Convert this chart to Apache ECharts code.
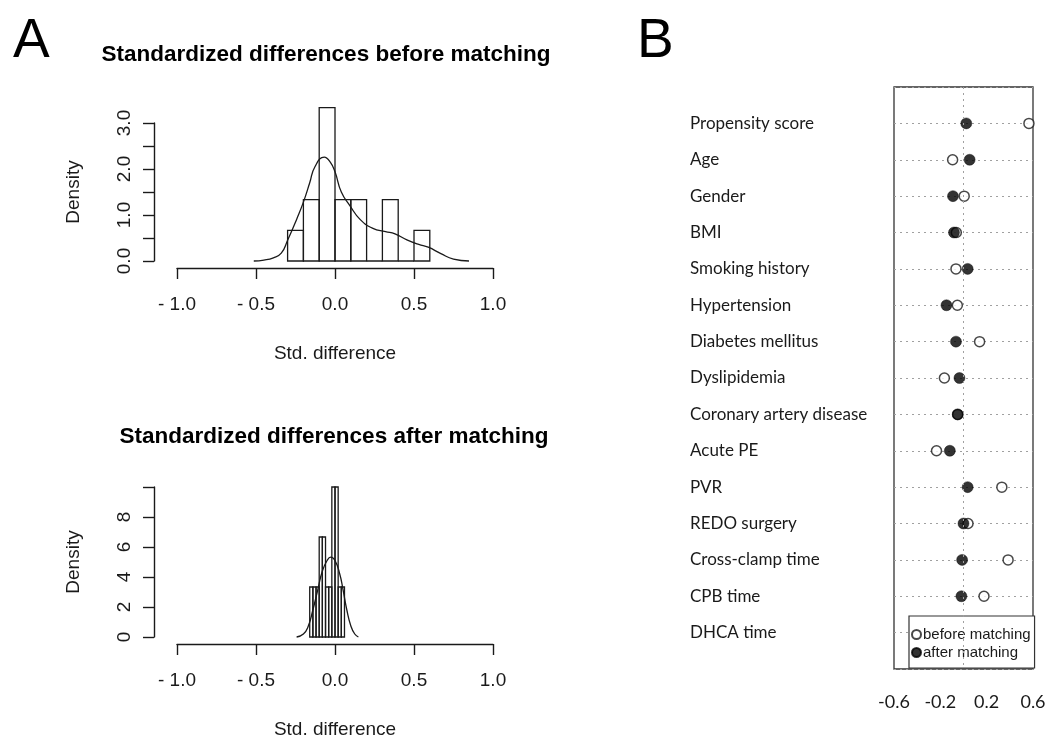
<!DOCTYPE html>
<html>
<head>
<meta charset="utf-8">
<script src="https://cdn.jsdelivr.net/npm/echarts@6/dist/echarts.min.js"></script>
<style>
  html, body { margin: 0; padding: 0; background: #fff; }
  #chart { width: 1058px; height: 740px; }
</style>
</head>
<body>
<div id="chart"></div>
<script>
// panel A: histograms of standardized differences
const histTicks = ['- 1.0', '- 0.5', '0.0', '0.5', '1.0'];
const beforeBreaks = [-0.3, -0.2, -0.1, 0.0, 0.1, 0.2, 0.3, 0.4, 0.5, 0.6];
const beforeDensity = [0.667, 1.333, 3.333, 1.333, 1.333, 0, 1.333, 0, 0.667];
const beforeCurve = [
  [-0.514, 0], [-0.45, 0.02], [-0.39, 0.07], [-0.34, 0.17], [-0.30, 0.45],
  [-0.24, 0.93], [-0.20, 1.28], [-0.16, 1.7], [-0.127, 2.05], [-0.068, 2.26],
  [-0.03, 2.15], [0.0, 1.94], [0.04, 1.5], [0.095, 1.2], [0.16, 0.9],
  [0.24, 0.71], [0.32, 0.64], [0.38, 0.59], [0.455, 0.46], [0.53, 0.36],
  [0.59, 0.3], [0.67, 0.16], [0.75, 0.04], [0.848, 0]
];
const afterBreaks = [-0.16, -0.14, -0.12, -0.10, -0.08, -0.06, -0.04, -0.02, 0.0, 0.02, 0.04, 0.06];
const afterDensity = [3.333, 3.333, 3.333, 6.667, 6.667, 3.333, 3.333, 10, 10, 3.333, 3.333];
const afterCurve = [
  [-0.243, 0], [-0.20, 0.2], [-0.17, 0.7], [-0.14, 1.8], [-0.11, 3.1],
  [-0.08, 4.4], [-0.05, 5.1], [-0.027, 5.32], [0.0, 5.1], [0.03, 4.2],
  [0.05, 3.2], [0.075, 1.8], [0.10, 0.75], [0.125, 0.2], [0.148, 0]
];

// panel B: dot chart per covariate
const covariates = [
  'Propensity score', 'Age', 'Gender', 'BMI', 'Smoking history', 'Hypertension',
  'Diabetes mellitus', 'Dyslipidemia', 'Coronary artery disease', 'Acute PE', 'PVR',
  'REDO surgery', 'Cross-clamp time', 'CPB time', 'DHCA time'
];
// DHCA points sit behind the legend, not readable
const smdBefore = [0.565, -0.094, 0.006, -0.062, -0.065, -0.053, 0.139, -0.165, -0.05, -0.233, 0.331, 0.039, 0.385, 0.177, null];
const smdAfter = [0.024, 0.053, -0.091, -0.082, 0.036, -0.147, -0.065, -0.035, -0.05, -0.118, 0.036, 0.0, -0.012, -0.018, null];
const dotTicks = ['-0.6', '-0.2', '0.2', '0.6'];

const ink = '#1a1a1a';
const sans = 'Liberation Sans';

const toBins = (breaks, dens) => dens.map((d, i) => [breaks[i], breaks[i + 1], d]);

function histRect(params, api) {
  const p0 = api.coord([api.value(0), 0]);
  const p1 = api.coord([api.value(1), api.value(2)]);
  return {
    type: 'rect',
    shape: { x: p0[0], y: p1[1], width: p1[0] - p0[0], height: p0[1] - p1[1] },
    style: { fill: 'none', stroke: ink, lineWidth: 1.3 }
  };
}

function histX(gi) {
  return {
    type: 'value', gridIndex: gi, min: -1, max: 1, interval: 0.5, offset: 7,
    axisLine: { onZero: false, lineStyle: { color: ink, width: 1.4 } },
    axisTick: { length: 11, lineStyle: { color: ink, width: 1.4 } },
    splitLine: { show: false },
    axisLabel: {
      margin: 27, color: ink, fontSize: 19, fontFamily: sans,
      formatter: v => histTicks[Math.round((v + 1) / 0.5)]
    },
    name: 'Std. difference', nameLocation: 'middle', nameGap: 76,
    nameTextStyle: { fontSize: 19, fontFamily: sans, color: ink }
  };
}

function histY(gi, max, interval, fmt) {
  return {
    type: 'value', gridIndex: gi, min: 0, max: max, interval: interval, offset: 23,
    axisLine: { show: true, onZero: false, lineStyle: { color: ink, width: 1.4 } },
    axisTick: { show: true, length: 11, lineStyle: { color: ink, width: 1.4 } },
    splitLine: { show: false },
    axisLabel: { rotate: 90, margin: 20, color: ink, fontSize: 19, fontFamily: sans, formatter: fmt },
    name: 'Density', nameLocation: 'middle', nameGap: 71, nameRotate: 90,
    nameTextStyle: { fontSize: 19, fontFamily: sans, color: ink }
  };
}

const chart = echarts.init(document.getElementById('chart'), null, { renderer: 'canvas' });

const option = {
  animation: false,
  backgroundColor: '#fff',
  grid: [
    { left: 177, width: 316, top: 123, height: 138 },
    { left: 177, width: 316, top: 487, height: 154 },
    { left: 894, right: 25, top: 87, bottom: 71, show: true, borderColor: '#333', borderWidth: 1.3, backgroundColor: 'transparent' }
  ],
  xAxis: [
    histX(0),
    histX(1),
    {
      type: 'value', gridIndex: 2, min: -0.6, max: 0.6, interval: 0.2, offset: 1,
      axisLine: { onZero: false, lineStyle: { color: ink, width: 1.3 } },
      axisTick: { length: 9, lineStyle: { color: ink, width: 1.3 } },
      splitLine: { show: false },
      axisLabel: {
        margin: 23, color: ink, fontSize: 18, fontFamily: 'Lato',
        formatter: v => {
          const s = v.toFixed(1);
          return dotTicks.indexOf(s) >= 0 ? s : '';
        }
      }
    }
  ],
  yAxis: [
    histY(0, 3, 0.5, v => (Math.abs(v - Math.round(v)) < 1e-6 ? v.toFixed(1) : '')),
    histY(1, 10, 2, v => (v < 10 ? String(v) : '')),
    {
      type: 'category', gridIndex: 2, inverse: true, boundaryGap: false,
      data: [''].concat(covariates, ['']),
      axisLine: { show: false, onZero: false },
      axisTick: { show: false },
      splitLine: { show: true, interval: 0, lineStyle: { type: [2, 4], color: '#a0a0a0', width: 1 } },
      axisLabel: { interval: 0, align: 'left', margin: 204, color: ink, fontSize: 17, fontFamily: 'Lato' }
    }
  ],
  legend: {
    data: ['before matching', 'after matching'],
    orient: 'vertical', left: 909, top: 616,
    backgroundColor: '#fff', borderColor: '#333', borderWidth: 1.2,
    padding: [11, 4, 8, 2], itemGap: 3, itemWidth: 9, itemHeight: 9,
    icon: 'circle',
    textStyle: { fontSize: 15, fontFamily: sans, color: ink, padding: [0, 0, 0, -3] }
  },
  series: [
    {
      type: 'custom', name: 'hist before', xAxisIndex: 0, yAxisIndex: 0,
      renderItem: histRect, encode: { x: [0, 1], y: 2 }, clip: false,
      data: toBins(beforeBreaks, beforeDensity)
    },
    {
      type: 'line', name: 'density before', xAxisIndex: 0, yAxisIndex: 0,
      smooth: true, symbol: 'none', clip: false,
      lineStyle: { color: ink, width: 1.3 },
      data: beforeCurve
    },
    {
      type: 'custom', name: 'hist after', xAxisIndex: 1, yAxisIndex: 1,
      renderItem: histRect, encode: { x: [0, 1], y: 2 }, clip: false,
      data: toBins(afterBreaks, afterDensity)
    },
    {
      type: 'line', name: 'density after', xAxisIndex: 1, yAxisIndex: 1,
      smooth: true, symbol: 'none', clip: false,
      lineStyle: { color: ink, width: 1.3 },
      data: afterCurve
    },
    {
      type: 'scatter', name: 'before matching', xAxisIndex: 2, yAxisIndex: 2,
      symbol: 'circle', symbolSize: 10,
      itemStyle: { color: '#fff', borderColor: ink, borderWidth: 1.5 },
      data: smdBefore.map((v, i) => [v, covariates[i]])
    },
    {
      type: 'scatter', name: 'after matching', xAxisIndex: 2, yAxisIndex: 2,
      symbol: 'circle', symbolSize: 11,
      itemStyle: { color: '#000', borderColor: '#000', borderWidth: 0.5 },
      data: smdAfter.map((v, i) => [v, covariates[i]]),
      markLine: {
        silent: true, symbol: 'none', label: { show: false },
        lineStyle: { type: [2, 4], color: '#a0a0a0', width: 1 },
        data: [{ xAxis: 0 }]
      }
    }
  ],
  graphic: [
    { type: 'text', left: 13, top: 14, style: { text: 'A', fontSize: 55, fontFamily: sans, fill: '#000' } },
    { type: 'text', left: 637, top: 14, style: { text: 'B', fontSize: 55, fontFamily: sans, fill: '#000' } },
    { type: 'text', x: 326, y: 55, style: { text: 'Standardized differences before matching', fontSize: 22.5, fontWeight: 'bold', fontFamily: sans, fill: '#000', align: 'center', verticalAlign: 'middle' } },
    { type: 'text', x: 334, y: 437, style: { text: 'Standardized differences after matching', fontSize: 22.5, fontWeight: 'bold', fontFamily: sans, fill: '#000', align: 'center', verticalAlign: 'middle' } }
  ]
};

chart.setOption(option);
</script>
</body>
</html>
